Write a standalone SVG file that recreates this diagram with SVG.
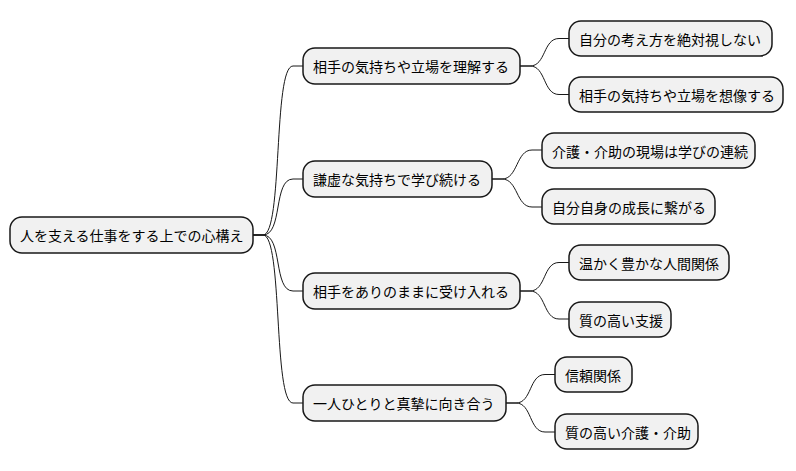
<svg xmlns="http://www.w3.org/2000/svg" width="796" height="471" viewBox="0 0 796 471">
<style>
.n rect{fill:#F1F1F1;stroke:#181818;stroke-width:1.5}
.n text{font-family:"Noto Sans CJK JP","Noto Sans",sans-serif;font-size:14px;fill:#000;dominant-baseline:central}
#edges path{fill:none;stroke:#181818;stroke-width:1}
</style>
<rect width="796" height="471" fill="#FFFFFF"/>
<g id="edges">
<path d="M253 235 L263 235 C283 235 273 66 293 66 L303 66"/>
<path d="M253 235 L263 235 C283 235 273 179 293 179 L303 179"/>
<path d="M253 235 L263 235 C283 235 273 291 293 291 L303 291"/>
<path d="M253 235 L263 235 C283 235 273 403 293 403 L303 403"/>
<path d="M520 66 L530 66 C546 66 543 38.5 559 38.5 L569 38.5"/>
<path d="M520 66 L530 66 C546 66 543 94.5 559 94.5 L569 94.5"/>
<path d="M492 179 L502 179 C518 179 516 150 532 150 L542 150"/>
<path d="M492 179 L502 179 C518 179 516 207 532 207 L542 207"/>
<path d="M520 291 L530 291 C546 291 543 262.5 559 262.5 L569 262.5"/>
<path d="M520 291 L530 291 C546 291 543 319 559 319 L569 319"/>
<path d="M506 403 L516 403 C532 403 529 374.5 545 374.5 L555 374.5"/>
<path d="M506 403 L516 403 C532 403 529 432 545 432 L555 432"/>
</g>
<g id="root" class="n"><rect x="10" y="217" width="243" height="36" rx="12"/><text x="20" y="235">人を支える仕事をする上での心構え</text></g>
<g id="n1" class="n"><rect x="303" y="48" width="217" height="36" rx="12"/><text x="313" y="66">相手の気持ちや立場を理解する</text></g>
<g id="n1a" class="n"><rect x="569" y="21" width="203" height="35" rx="12"/><text x="579" y="38.5">自分の考え方を絶対視しない</text></g>
<g id="n1b" class="n"><rect x="569" y="77" width="214" height="35" rx="12"/><text x="579" y="94.5">相手の気持ちや立場を想像する</text></g>
<g id="n2" class="n"><rect x="303" y="161" width="189" height="36" rx="12"/><text x="313" y="179">謙虚な気持ちで学び続ける</text></g>
<g id="n2a" class="n"><rect x="542" y="133" width="213" height="35" rx="12"/><text x="552" y="150.5">介護・介助の現場は学びの連続</text></g>
<g id="n2b" class="n"><rect x="542" y="189" width="173" height="35" rx="12"/><text x="552" y="206.5">自分自身の成長に繋がる</text></g>
<g id="n3" class="n"><rect x="303" y="273" width="217" height="36" rx="12"/><text x="313" y="291">相手をありのままに受け入れる</text></g>
<g id="n3a" class="n"><rect x="569" y="245" width="160" height="35" rx="12"/><text x="579" y="262.5">温かく豊かな人間関係</text></g>
<g id="n3b" class="n"><rect x="569" y="302" width="102" height="35" rx="12"/><text x="579" y="319.5">質の高い支援</text></g>
<g id="n4" class="n"><rect x="303" y="385" width="203" height="36" rx="12"/><text x="313" y="403">一人ひとりと真摯に向き合う</text></g>
<g id="n4a" class="n"><rect x="555" y="357" width="77" height="35" rx="12"/><text x="565" y="374.5">信頼関係</text></g>
<g id="n4b" class="n"><rect x="555" y="414" width="143" height="35" rx="12"/><text x="565" y="431.5">質の高い介護・介助</text></g>
</svg>
